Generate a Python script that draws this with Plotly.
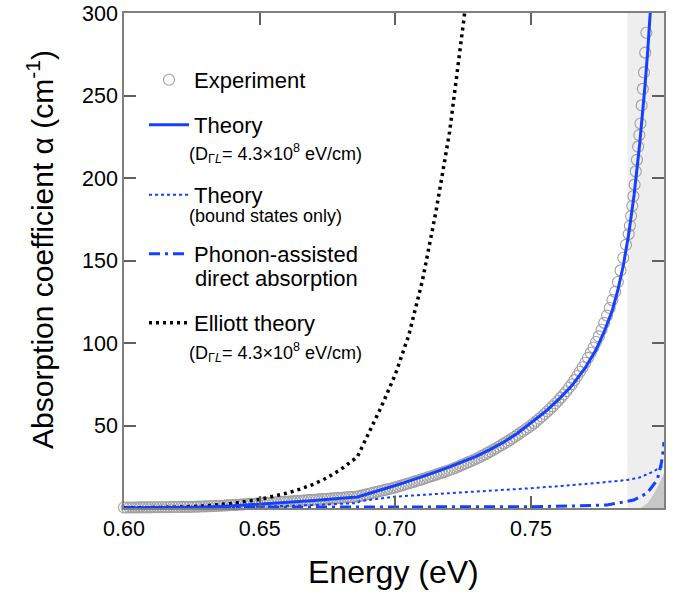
import plotly.graph_objects as go

# ---------------- data ----------------
exp_E = [
    0.600, 0.601, 0.602, 0.603, 0.604, 0.605, 0.606, 0.607, 0.608, 0.609,
    0.610, 0.611, 0.612, 0.613, 0.614, 0.615, 0.616, 0.617, 0.618, 0.619,
    0.620, 0.621, 0.622, 0.623, 0.624, 0.625, 0.626, 0.627, 0.628, 0.629,
    0.630, 0.631, 0.632, 0.633, 0.634, 0.635, 0.636, 0.637, 0.638, 0.639,
    0.640, 0.641, 0.642, 0.643, 0.644, 0.645, 0.646, 0.647, 0.648, 0.649,
    0.650, 0.651, 0.652, 0.653, 0.654, 0.655, 0.656, 0.657, 0.658, 0.659,
    0.660, 0.661, 0.662, 0.663, 0.664, 0.665, 0.666, 0.667, 0.668, 0.669,
    0.670, 0.671, 0.672, 0.673, 0.674, 0.675, 0.676, 0.677, 0.678, 0.679,
    0.680, 0.681, 0.682, 0.683, 0.684, 0.685, 0.686, 0.687, 0.688, 0.689,
    0.690, 0.691, 0.692, 0.693, 0.694, 0.695, 0.696, 0.697, 0.698, 0.699,
    0.700, 0.701, 0.702, 0.703, 0.704, 0.705, 0.706, 0.707, 0.708, 0.709,
    0.710, 0.711, 0.712, 0.713, 0.714, 0.715, 0.716, 0.717, 0.718, 0.719,
    0.720, 0.721, 0.722, 0.723, 0.724, 0.725, 0.726, 0.727, 0.728, 0.729,
    0.730, 0.731, 0.732, 0.733, 0.734, 0.735, 0.736, 0.737, 0.738, 0.739,
    0.740, 0.741, 0.742, 0.743, 0.744, 0.745, 0.746, 0.747, 0.748, 0.749,
    0.750, 0.751, 0.752, 0.753, 0.754, 0.755, 0.756, 0.757, 0.758, 0.759,
    0.760, 0.761, 0.762, 0.763, 0.764, 0.765, 0.766, 0.767, 0.768, 0.769,
    0.770, 0.771, 0.772, 0.773, 0.774, 0.775, 0.776, 0.777, 0.778, 0.779,
    0.780, 0.781, 0.782, 0.783, 0.784, 0.785,
    0.78600, 0.78643, 0.78687, 0.78730, 0.78773, 0.78817, 0.78860, 0.78903,
    0.78947, 0.78990, 0.79033, 0.79077, 0.79120, 0.79163, 0.79207, 0.79250,
]
exp_alpha = [
    0.3, 0.3, 0.3, 0.3, 0.3, 0.35, 0.4, 0.4, 0.4, 0.4,
    0.4, 0.45, 0.5, 0.5, 0.5, 0.5, 0.5, 0.55, 0.6, 0.6,
    0.6, 0.65, 0.7, 0.7, 0.7, 0.75, 0.8, 0.85, 0.9, 0.95,
    1.0, 1.05, 1.1, 1.2, 1.3, 1.35, 1.4, 1.5, 1.6, 1.7,
    1.8, 1.9, 2.0, 2.1, 2.2, 2.3, 2.4, 2.5, 2.6, 2.7,
    2.8, 2.9, 3.0, 3.1, 3.2, 3.3, 3.4, 3.5, 3.6, 3.7,
    3.8, 3.9, 4.0, 4.15, 4.3, 4.4, 4.5, 4.65, 4.8, 4.9,
    5.0, 5.1, 5.2, 5.35, 5.5, 5.6, 5.7, 5.85, 6.0, 6.1,
    6.2, 6.35, 6.5, 6.6, 6.7, 6.85, 7.0, 7.35, 7.7, 8.1,
    8.5, 8.9, 9.3, 9.7, 10.1, 10.5, 10.9, 11.3, 11.7, 12.1,
    12.5, 13.0, 13.5, 14.0, 14.5, 15.0, 15.5, 16.0, 16.5, 17.0,
    17.5, 18.0, 18.6, 19.1, 19.7, 20.2, 20.8, 21.3, 21.9, 22.4,
    23.0, 23.6, 24.3, 25.0, 25.7, 26.4, 27.1, 27.8, 28.5, 29.2,
    30.0, 30.8, 31.7, 32.5, 33.4, 34.3, 35.2, 36.1, 37.1, 38.0,
    39.0, 40.0, 41.0, 42.1, 43.2, 44.3, 45.4, 46.5, 47.7, 48.8,
    50.0, 51.3, 52.7, 54.1, 55.5, 57.0, 58.5, 60.0, 61.6, 63.3,
    65.0, 66.9, 68.8, 70.8, 72.9, 75.0, 77.5, 80.0, 82.6, 85.3,
    88.0, 91.0, 94.1, 97.3, 100.6, 104.0, 108.0, 112.2, 116.6, 121.2,
    126.0, 131.0, 137.0, 144.0, 151.5, 159.5,
    166, 171, 177, 183, 189, 196, 204, 211,
    219, 226, 233, 244, 254, 264, 276, 288,
]

theory_E = [0.600, 0.620, 0.630, 0.640, 0.650, 0.660, 0.670, 0.680, 0.686,
            0.690, 0.695, 0.700, 0.705, 0.710, 0.715, 0.720, 0.725, 0.730,
            0.735, 0.740, 0.745, 0.750, 0.755, 0.760, 0.765, 0.770, 0.774,
            0.777, 0.780, 0.782, 0.784, 0.786, 0.788, 0.790, 0.791, 0.792,
            0.793, 0.794]
theory_alpha = [0.0, 0.2, 0.6, 1.3, 2.3, 3.4, 4.6, 5.9, 6.7,
                8.6, 11.0, 13.6, 16.3, 19.0, 21.9, 24.9, 28.0, 31.5,
                35.5, 40.0, 45.3, 51.5, 58.0, 65.5, 74.0, 85.0, 96.0,
                107.0, 120.0, 132.0, 147.0, 166.0, 190.0, 220.0, 237.0, 256.0,
                277.0, 302.0]

bound_E = [0.600, 0.630, 0.650, 0.670, 0.686, 0.687, 0.700, 0.720, 0.750,
           0.770, 0.7855, 0.790, 0.795, 0.797, 0.799]
bound_alpha = [0.0, 0.3, 0.8, 1.8, 3.0, 4.2, 6.9, 9.0, 12.0,
               14.5, 17.0, 18.5, 22.0, 24.0, 26.0]

phonon_E = [0.600, 0.650, 0.700, 0.750, 0.765, 0.778, 0.7878, 0.7928, 0.7965,
            0.798, 0.7988, 0.799]
phonon_alpha = [0.3, 0.4, 0.5, 0.8, 1.2, 1.8, 4.8, 9.0, 17.0,
                27.0, 36.0, 40.0]

elliott_E = [0.600, 0.610, 0.620, 0.630, 0.640, 0.650, 0.655, 0.660, 0.665,
             0.670, 0.675, 0.680, 0.686, 0.690, 0.695, 0.700, 0.705, 0.710,
             0.715, 0.720, 0.7255, 0.726]
elliott_alpha = [0.0, 0.1, 0.5, 1.3, 2.8, 5.2, 7.0, 9.0, 11.5,
                 14.5, 18.5, 23.5, 31.0, 45.0, 62.0, 81.0, 105.0, 138.0,
                 180.0, 228.0, 300.0, 306.0]

dark_E = [0.7904, 0.793, 0.795, 0.797, 0.799]
dark_alpha = [0.0, 3.0, 8.0, 14.0, 21.0]

shade_range = [0.7855, 0.799]

x_ticks = [0.60, 0.65, 0.70, 0.75]
y_ticks = [50, 100, 150, 200, 250, 300]

legend_names = ["Experiment", "Theory", "Theory", "Phonon-assisted", "Elliott theory"]
legend_subs = ["", "(D<sub>Γ<i>L</i></sub>= 4.3×10<sup>8</sup> eV/cm)",
               "(bound states only)", "direct absorption",
               "(D<sub>Γ<i>L</i></sub>= 4.3×10<sup>8</sup> eV/cm)"]

# ---------------- layout constants ----------------
W, H = 681, 601
ML, MR, MT, MB = 124, 17, 13, 93
PW, PH = W - ML - MR, H - MT - MB

def px_x(p):
    return (p - ML) / PW

def px_y(p):
    return (H - MB - p) / PH

BLUE = "#1540ff"
FONT = "Liberation Sans, Arial, sans-serif"

fig = go.Figure()

fig.add_trace(go.Scatter(x=dark_E, y=dark_alpha, mode="lines", fill="tozeroy",
                         line=dict(width=0, color="#c8c8c8"), fillcolor="#c8c8c8",
                         showlegend=False, hoverinfo="skip"))

fig.add_trace(go.Scatter(
    x=exp_E, y=exp_alpha, mode="markers", name=legend_names[0],
    marker=dict(symbol="circle-open", size=11, color="#a0a0a0",
                line=dict(width=1.1, color="#a0a0a0")),
    cliponaxis=False, legend="legend"))

fig.add_trace(go.Scatter(
    x=bound_E, y=bound_alpha, mode="lines", name=legend_names[2],
    line=dict(color=BLUE, width=2, dash="3px,3px"), legend="legend3"))

fig.add_trace(go.Scatter(
    x=phonon_E, y=phonon_alpha, mode="lines", name=legend_names[3],
    line=dict(color=BLUE, width=3, dash="11px,5px,3px,5px"), legend="legend4"))

fig.add_trace(go.Scatter(
    x=elliott_E, y=elliott_alpha, mode="lines", name=legend_names[4],
    line=dict(color="black", width=3.5, dash="3px,4px"), legend="legend5"))

fig.add_trace(go.Scatter(
    x=theory_E, y=theory_alpha, mode="lines", name=legend_names[1],
    line=dict(color=BLUE, width=3), legend="legend2"))

fig.add_shape(type="rect", xref="x", yref="paper", x0=shade_range[0], x1=shade_range[1],
              y0=0, y1=1, fillcolor="#eeeeee", line=dict(width=0), layer="below")

axis_common = dict(showline=True, linecolor="#808080", linewidth=1.5, mirror="ticks",
                   ticks="inside", ticklen=12, tickwidth=1.5, tickcolor="#606060",
                   showgrid=False, zeroline=False, automargin=False,
                   tickfont=dict(size=21.5, color="black", family=FONT))

fig.update_xaxes(range=[0.60, 0.799], tickvals=x_ticks,
                 ticktext=[f"{v:.2f}" for v in x_ticks], **axis_common)
fig.update_yaxes(range=[0, 300], tickvals=y_ticks, **axis_common)

# axis titles
fig.add_annotation(text="Energy (eV)", xref="paper", yref="paper",
                   x=px_x(393), y=px_y(572), showarrow=False,
                   xanchor="center", yanchor="middle",
                   font=dict(size=32, color="black", family=FONT))
fig.add_annotation(text="Absorption coefficient α (cm<sup>-1</sup>)", xref="paper", yref="paper",
                   x=px_x(40), y=px_y(250), showarrow=False, textangle=-90,
                   xanchor="center", yanchor="middle",
                   font=dict(size=30, color="black", family=FONT))

# legend boxes (one per entry), positioned by first-line centre
legend_rows = [80, 125, 195, 254, 323]
sub_rows = [None, 153, 216, 278, 352]
sub_x = [None, 187, 187, 193, 187]
sub_size = [None, 18, 18, 22, 18]
legend_keys = ["legend", "legend2", "legend3", "legend4", "legend5"]
lay = {}
for key, row in zip(legend_keys, legend_rows):
    lay[key] = dict(x=px_x(144), y=px_y(row), xanchor="left", yanchor="middle",
                    bgcolor="rgba(0,0,0,0)",
                    font=dict(size=22, family=FONT, color="black"),
                    itemwidth=40)

for txt, row, sx, ss in zip(legend_subs, sub_rows, sub_x, sub_size):
    if not txt:
        continue
    fig.add_annotation(text=txt, xref="paper", yref="paper", x=px_x(sx), y=px_y(row),
                       showarrow=False, xanchor="left", yanchor="middle",
                       font=dict(size=ss, color="black", family=FONT))

fig.update_layout(
    width=W, height=H,
    margin=dict(l=ML, r=MR, t=MT, b=MB),
    paper_bgcolor="white", plot_bgcolor="white",
    font=dict(family=FONT, color="black"),
    **lay,
)

fig.write_html("out.html", config={"displayModeBar": False},
               post_script="document.body.style.margin='0';document.body.style.overflow='hidden';")
